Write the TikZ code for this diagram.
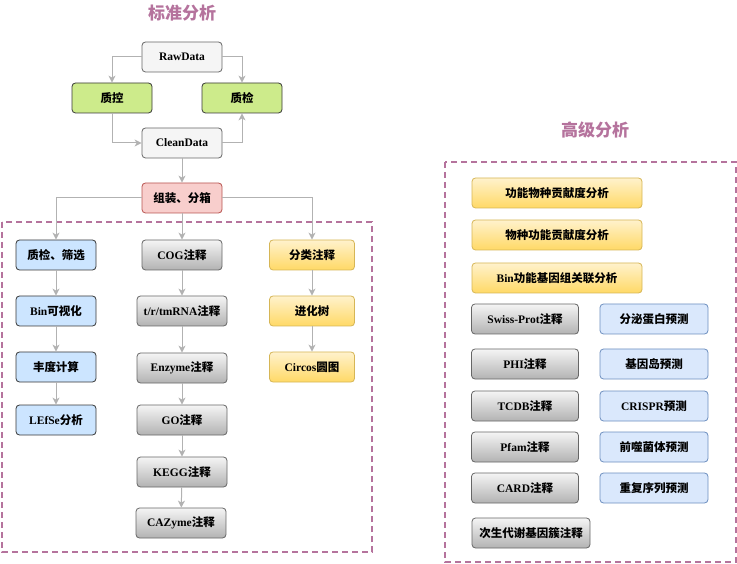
\documentclass[tikz,border=0pt]{standalone}
\usepackage{fontspec}
\usepackage{tikz}
\usetikzlibrary{arrows.meta,positioning,calc}
\setmainfont{Liberation Serif}
\newfontfamily\cjk{Noto Sans CJK SC}
\newcommand{\zh}[1]{{\cjk #1}}
\definecolor{TitlePurple}{RGB}{181,115,157}
\definecolor{ArrowGray}{RGB}{178,178,178}
\tikzset{
  box/.style={draw,rounded corners=3.5pt,minimum width=80pt,minimum height=30pt,
    inner sep=1pt,line width=0.8pt,font=\bfseries\fontsize{11.5}{13}\selectfont},
  plainbox/.style={box,draw=black!60,fill=black!4},
  greenbox/.style={box,draw=black!78,fill={rgb,255:red,205;green,235;blue,139}},
  pinkbox/.style={box,draw={rgb,255:red,184;green,84;blue,80},fill={rgb,255:red,248;green,206;blue,204}},
  bluebox/.style={box,draw=black!78,fill={rgb,255:red,204;green,229;blue,255}},
  lbluebox/.style={box,draw={rgb,255:red,108;green,142;blue,191},fill={rgb,255:red,218;green,232;blue,252}},
  graybox/.style={box,draw=black!60,top color=black!4,bottom color=black!30},
  yellowbox/.style={box,draw={rgb,255:red,214;green,182;blue,86},
    top color={rgb,255:red,255;green,242;blue,204},bottom color={rgb,255:red,255;green,217;blue,102}},
  flow/.style={draw=ArrowGray,line width=1pt,-{Stealth[length=7pt,width=7pt,inset=2pt]}},
  dashbox/.style={draw=TitlePurple,line width=1.6pt,dash pattern=on 6pt off 4pt},
  heading/.style={text=TitlePurple,font=\cjk\bfseries\fontsize{17}{19}\selectfont}
}

\begin{document}
\begin{tikzpicture}[x=1pt,y=-1pt]
  \useasboundingbox (0,0) rectangle (737,564);

  % standard analysis
  \node[heading] (stdtitle) at (182,13) {标准分析};
  \node[plainbox] (raw) at (182,57) {RawData};
  \node[greenbox] (qc) at (112,98) {\zh{质控}};
  \node[greenbox] (qk) at (242,98) {\zh{质检}};
  \node[plainbox] (clean) at (182,143) {CleanData};
  \node[pinkbox] (asm) at (182,198) {\zh{组装、分箱}};

  \draw[flow] (raw.west) -| (qc.north);
  \draw[flow] (raw.east) -| (qk.north);
  \draw[flow] (qc.south) |- (clean.west);
  \draw[flow] (clean.east) -| (qk.south);
  \draw[flow] (clean) -- (asm);

  \draw[dashbox] (2,222) rectangle (372,552);

  % bin column
  \node[bluebox] (filt) at (56,255) {\zh{质检、筛选}};
  \node[bluebox] (binvis) at (56,311) {Bin\zh{可视化}};
  \node[bluebox] (abund) at (56,367) {\zh{丰度计算}};
  \node[bluebox] (lefse) at (56,420) {LEfSe\zh{分析}};

  % annotation column
  \node[graybox] (cog) at (182,255) {COG\zh{注释}};
  \node[graybox,minimum width=90pt] (trna) at (182,311) {t/r/tmRNA\zh{注释}};
  \node[graybox,minimum width=90pt] (enz) at (182,368) {Enzyme\zh{注释}};
  \node[graybox,minimum width=90pt] (go) at (182,420) {GO\zh{注释}};
  \node[graybox,minimum width=90pt] (kegg) at (182,472) {KEGG\zh{注释}};
  \node[graybox,minimum width=90pt] (cazy) at (181,523) {CAZyme\zh{注释}};

  % taxonomy column
  \node[yellowbox,minimum width=85pt] (tax) at (312,255) {\zh{分类注释}};
  \node[yellowbox,minimum width=85pt] (tree) at (312,311) {\zh{进化树}};
  \node[yellowbox,minimum width=85pt] (circos) at (312,367) {Circos\zh{圆图}};

  \draw[flow] (asm.west) -| (filt.north);
  \draw[flow] (asm) -- (cog);
  \draw[flow] (asm.east) -| (tax.north);
  \foreach \a/\b in {filt/binvis,binvis/abund,abund/lefse,
                     cog/trna,trna/enz,enz/go,go/kegg,kegg/cazy,
                     tax/tree,tree/circos}
    \draw[flow] (\a) -- (\b);

  % advanced analysis
  \node[heading] (advtitle) at (595,130) {高级分析};
  \draw[dashbox] (445,162) rectangle (736,562);

  \node[yellowbox,minimum width=170pt] (contrib1) at (557,193) {\zh{功能物种贡献度分析}};
  \node[yellowbox,minimum width=170pt] (contrib2) at (557,235) {\zh{物种功能贡献度分析}};
  \node[yellowbox,minimum width=170pt] (bincorr) at (557,278) {Bin\zh{功能基因组关联分析}};

  \node[graybox,minimum width=107pt] (swiss) at (525,319) {Swiss-Prot\zh{注释}};
  \node[graybox,minimum width=107pt] (phi) at (525,364) {PHI\zh{注释}};
  \node[graybox,minimum width=107pt] (tcdb) at (525,406) {TCDB\zh{注释}};
  \node[graybox,minimum width=107pt] (pfam) at (525,447) {Pfam\zh{注释}};
  \node[graybox,minimum width=107pt] (card) at (525,488) {CARD\zh{注释}};
  \node[graybox,minimum width=118pt] (smc) at (531,533) {\zh{次生代谢基因簇注释}};

  \node[lbluebox,minimum width=108pt] (secr) at (654,319) {\zh{分泌蛋白预测}};
  \node[lbluebox,minimum width=108pt] (island) at (654,364) {\zh{基因岛预测}};
  \node[lbluebox,minimum width=108pt] (crispr) at (654,406) {CRISPR\zh{预测}};
  \node[lbluebox,minimum width=108pt] (phage) at (654,447) {\zh{前噬菌体预测}};
  \node[lbluebox,minimum width=108pt] (repeat) at (654,488) {\zh{重复序列预测}};
\end{tikzpicture}
\end{document}
